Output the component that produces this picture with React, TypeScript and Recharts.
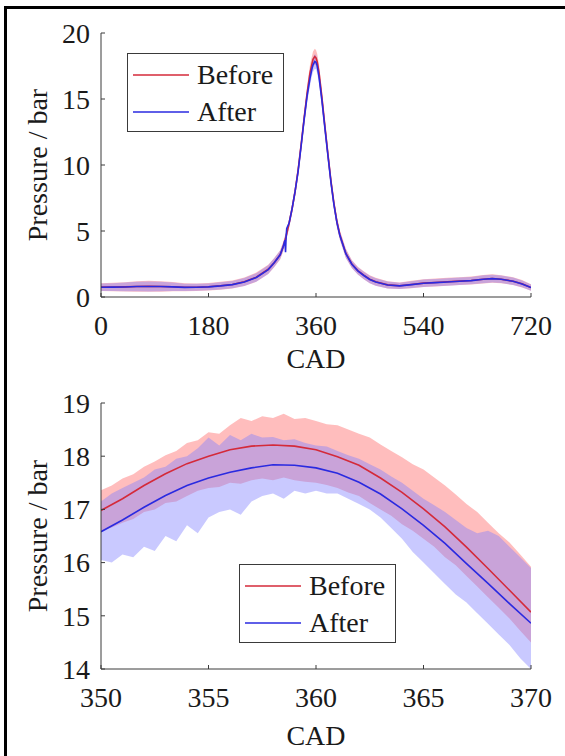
import React from 'react';
import { ComposedChart, Line, Area, XAxis, YAxis, Legend, Label } from 'recharts';

// ---------- Top panel: full cycle ----------
const topCad = [0, 20, 40, 60, 80, 100, 120, 140, 160, 180, 200, 220, 240, 260, 280, 290, 300, 305, 310, 315, 320, 325, 330, 335, 340, 345, 350, 353, 355, 358, 360, 362, 365, 370, 375, 380, 385, 390, 395, 400, 410, 420, 430, 440, 450, 460, 480, 500, 520, 540, 560, 580, 600, 620, 640, 655, 670, 690, 705, 720];
const topBefore = [0.75, 0.76, 0.77, 0.8, 0.82, 0.8, 0.78, 0.74, 0.74, 0.78, 0.85, 0.95, 1.15, 1.5, 2.1, 2.6, 3.2, 3.8, 4.6, 5.6, 6.7, 8.0, 9.6, 11.5, 13.5, 15.4, 17.0, 17.6, 18.0, 18.21, 18.12, 17.83, 17.01, 15.07, 12.9, 10.8, 8.8, 7.1, 5.7, 4.7, 3.3, 2.5, 2.0, 1.65, 1.35, 1.15, 0.92, 0.85, 0.95, 1.05, 1.1, 1.15, 1.2, 1.25, 1.35, 1.4, 1.35, 1.2, 1.0, 0.72];
const topAfter = [0.74, 0.75, 0.76, 0.79, 0.8, 0.79, 0.77, 0.73, 0.74, 0.77, 0.84, 0.94, 1.13, 1.48, 2.08, 2.6, 3.2, 3.8, 4.6, 5.6, 6.7, 8.0, 9.5, 11.4, 13.4, 15.2, 16.58, 17.25, 17.59, 17.84, 17.78, 17.51, 16.7, 14.86, 12.75, 10.7, 8.7, 7.0, 5.65, 4.65, 3.28, 2.48, 1.98, 1.63, 1.33, 1.14, 0.91, 0.84, 0.94, 1.04, 1.09, 1.14, 1.19, 1.24, 1.34, 1.39, 1.34, 1.19, 0.99, 0.71];
const topBeforeSpread = [0.3, 0.32, 0.35, 0.4, 0.42, 0.4, 0.35, 0.3, 0.28, 0.28, 0.3, 0.3, 0.32, 0.35, 0.35, 0.35, 0.35, 0.35, 0.35, 0.35, 0.35, 0.4, 0.4, 0.45, 0.5, 0.55, 0.6, 0.6, 0.6, 0.6, 0.6, 0.6, 0.6, 0.6, 0.55, 0.5, 0.45, 0.4, 0.4, 0.35, 0.35, 0.3, 0.3, 0.3, 0.3, 0.3, 0.28, 0.25, 0.28, 0.3, 0.3, 0.3, 0.3, 0.3, 0.32, 0.32, 0.3, 0.3, 0.28, 0.25];
const topAfterSpread = [0.28, 0.3, 0.33, 0.36, 0.38, 0.36, 0.32, 0.28, 0.26, 0.26, 0.28, 0.28, 0.3, 0.32, 0.33, 0.33, 0.33, 0.33, 0.33, 0.33, 0.33, 0.38, 0.38, 0.42, 0.48, 0.52, 0.55, 0.55, 0.55, 0.55, 0.55, 0.55, 0.55, 0.55, 0.5, 0.48, 0.42, 0.38, 0.38, 0.33, 0.33, 0.28, 0.28, 0.28, 0.28, 0.28, 0.26, 0.24, 0.26, 0.28, 0.28, 0.28, 0.28, 0.28, 0.3, 0.3, 0.28, 0.28, 0.26, 0.24];
// small discontinuity in the After trace near 310 CAD
const afterGlitchCad = [308, 309, 311];
const afterGlitchP = [4.3, 3.4, 5.2];
const topXTicks = [0, 180, 360, 540, 720];
const topYTicks = [0, 5, 10, 15, 20];

// ---------- Bottom panel: zoom on the peak ----------
const botCad = [350, 351, 352, 353, 354, 355, 356, 357, 358, 359, 360, 361, 362, 363, 364, 365, 366, 367, 368, 369, 370];
const botBefore = [16.98, 17.2, 17.45, 17.67, 17.86, 18.0, 18.12, 18.19, 18.21, 18.19, 18.12, 17.99, 17.83, 17.59, 17.32, 17.01, 16.67, 16.29, 15.89, 15.48, 15.07];
const botAfter = [16.58, 16.8, 17.04, 17.26, 17.45, 17.59, 17.7, 17.78, 17.84, 17.83, 17.78, 17.68, 17.51, 17.29, 17.01, 16.7, 16.36, 15.98, 15.61, 15.23, 14.86];
const botBandCad = [350, 350.5, 351, 351.5, 352, 352.5, 353, 353.5, 354, 354.5, 355, 355.5, 356, 356.5, 357, 357.5, 358, 358.5, 359, 359.5, 360, 360.5, 361, 361.5, 362, 362.5, 363, 363.5, 364, 364.5, 365, 365.5, 366, 366.5, 367, 367.5, 368, 368.5, 369, 369.5, 370];
const botBeforeHi = [17.36, 17.45, 17.58, 17.66, 17.8, 17.9, 18.02, 18.1, 18.25, 18.3, 18.45, 18.42, 18.58, 18.72, 18.66, 18.75, 18.72, 18.8, 18.7, 18.72, 18.66, 18.6, 18.58, 18.5, 18.42, 18.35, 18.22, 18.1, 17.98, 17.85, 17.75, 17.6, 17.45, 17.28, 17.1, 16.95, 16.75, 16.55, 16.38, 16.15, 15.92];
const botBeforeLo = [16.6, 16.66, 16.75, 16.82, 16.95, 17.0, 17.12, 17.15, 17.25, 17.35, 17.4, 17.42, 17.5, 17.48, 17.55, 17.58, 17.55, 17.6, 17.55, 17.52, 17.5, 17.46, 17.4, 17.32, 17.25, 17.12, 17.0, 16.88, 16.72, 16.6, 16.45, 16.3, 16.1, 15.95, 15.75, 15.55, 15.35, 15.15, 14.95, 14.72, 14.5];
const botAfterHi = [17.15, 17.3, 17.4, 17.5, 17.6, 17.75, 17.8, 17.95, 18.0, 18.15, 18.35, 18.2, 18.4, 18.3, 18.42, 18.35, 18.36, 18.3, 18.32, 18.25, 18.2, 18.18, 18.1, 18.02, 17.95, 17.85, 17.75, 17.62, 17.5, 17.35, 17.2, 17.08, 16.95, 16.8, 16.65, 16.55, 16.6, 16.5, 16.3, 16.1, 15.9];
const botAfterLo = [16.05, 16.0, 16.15, 16.1, 16.3, 16.22, 16.5, 16.4, 16.7, 16.55, 16.85, 16.95, 17.0, 16.9, 17.15, 17.25, 17.3, 17.2, 17.35, 17.3, 17.35, 17.3, 17.3, 17.2, 17.1, 17.0, 16.85, 16.65, 16.45, 16.2, 16.0, 15.8, 15.6, 15.4, 15.25, 15.05, 14.85, 14.65, 14.45, 14.2, 14.0];
const botXTicks = [350, 355, 360, 365, 370];
const botYTicks = [14, 15, 16, 17, 18, 19];

const seriesNames = ['Before', 'After'];

// ---------- build tables ----------
const topBeforeLine = topCad.map((c, i) => ({ cad: c, p: topBefore[i] }));
const topAfterLine = [
  ...topCad.map((c, i) => ({ cad: c, p: topAfter[i] })),
  ...afterGlitchCad.map((c, i) => ({ cad: c, p: afterGlitchP[i] })),
].sort((a, b) => a.cad - b.cad);
const topBeforeBand = topCad.map((c, i) => ({ cad: c, band: [topBefore[i] - topBeforeSpread[i], topBefore[i] + topBeforeSpread[i]] }));
const topAfterBand = topCad.map((c, i) => ({ cad: c, band: [topAfter[i] - topAfterSpread[i], topAfter[i] + topAfterSpread[i]] }));

const botBeforeLine = botCad.map((c, i) => ({ cad: c, p: botBefore[i] }));
const botAfterLine = botCad.map((c, i) => ({ cad: c, p: botAfter[i] }));
const botBeforeBand = botBandCad.map((c, i) => ({ cad: c, band: [botBeforeLo[i], botBeforeHi[i]] }));
const botAfterBand = botBandCad.map((c, i) => ({ cad: c, band: [botAfterLo[i], botAfterHi[i]] }));

// ---------- styles ----------
const FONT = "'Liberation Serif', serif";
const TXT = '#1a1a1a';
const AX = '#3a3a3a';
const RED_LINE = '#d42a3a';
const BLUE_LINE = '#2a2ae0';
const RED_FILL = 'rgb(255,90,90)';
const BLUE_FILL = 'rgb(126,126,255)';
const TICK_LEN = 4;

const BottomTick = (props: any) => {
  const { x, y, payload } = props;
  return (
    <g>
      <line x1={x} y1={y} x2={x} y2={y - TICK_LEN} stroke={AX} strokeWidth={1} />
      <text x={x} y={y + 38} textAnchor="middle" fontFamily={FONT} fontSize={28} fill={TXT}>
        {payload.value}
      </text>
    </g>
  );
};
const TopTick = (props: any) => {
  const { x, y } = props;
  return <line x1={x} y1={y} x2={x} y2={y + TICK_LEN} stroke={AX} strokeWidth={1} />;
};
const LeftTick = (props: any) => {
  const { x, y, payload } = props;
  return (
    <g>
      <line x1={x} y1={y} x2={x + TICK_LEN} y2={y} stroke={AX} strokeWidth={1} />
      <text x={x - 11} y={y} dy="0.35em" textAnchor="end" fontFamily={FONT} fontSize={28} fill={TXT}>
        {payload.value}
      </text>
    </g>
  );
};
const RightTick = (props: any) => {
  const { x, y } = props;
  return <line x1={x} y1={y} x2={x - TICK_LEN} y2={y} stroke={AX} strokeWidth={1} />;
};

const xTitle = (dy: number) => (props: any) => {
  const vb = props.viewBox;
  return (
    <text x={vb.x + vb.width / 2} y={vb.y + dy} textAnchor="middle" fontFamily={FONT} fontSize={28} fill={TXT}>
      CAD
    </text>
  );
};
const yTitle = (props: any) => {
  const vb = props.viewBox;
  const cx = vb.x + vb.width - 54;
  const cy = vb.y + vb.height / 2;
  return (
    <text x={cx} y={cy} transform={`rotate(-90, ${cx}, ${cy})`} textAnchor="middle" fontFamily={FONT} fontSize={28} fill={TXT}>
      Pressure / bar
    </text>
  );
};

const LegendBox = (props: any) => {
  const items = (props.payload || [])
    .filter((p: any) => p.type !== 'none' && seriesNames.includes(p.value))
    .sort((a: any, b: any) => seriesNames.indexOf(a.value) - seriesNames.indexOf(b.value));
  return (
    <div
      style={{
        width: 157,
        height: 79,
        boxSizing: 'border-box',
        border: `1px solid ${AX}`,
        background: '#fff',
        paddingTop: 3,
        paddingLeft: 5,
      }}
    >
      {items.map((p: any) => (
        <div key={p.value} style={{ display: 'flex', alignItems: 'center', height: 36.7 }}>
          <svg width={56} height={4} style={{ display: 'block' }}>
            <line x1={0} y1={2} x2={56} y2={2} stroke={p.color} strokeWidth={1.5} />
          </svg>
          <span style={{ fontFamily: FONT, fontSize: 28, color: TXT, marginLeft: 8, lineHeight: '28px' }}>{p.value}</span>
        </div>
      ))}
    </div>
  );
};

type PanelProps = {
  height: number;
  margin: any;
  xDomain: [number, number];
  xTicks: number[];
  yDomain: [number, number];
  yTicks: number[];
  beforeLine: any[];
  afterLine: any[];
  beforeBand: any[];
  afterBand: any[];
  legendPos: { left: number; top: number };
  titleDy: number;
};

const Panel = (p: PanelProps) => (
  <ComposedChart width={565} height={p.height} margin={p.margin}>
    <XAxis
      xAxisId="b"
      type="number"
      dataKey="cad"
      domain={p.xDomain}
      ticks={p.xTicks}
      interval={0}
      allowDataOverflow
      height={80}
      tickSize={0}
      tickMargin={0}
      tickLine={false}
      axisLine={{ stroke: AX, strokeWidth: 1 }}
      tick={<BottomTick />}
    >
      <Label content={xTitle(p.titleDy)} />
    </XAxis>
    <XAxis
      xAxisId="t"
      orientation="top"
      type="number"
      dataKey="cad"
      domain={p.xDomain}
      ticks={p.xTicks}
      interval={0}
      allowDataOverflow
      height={0}
      tickSize={0}
      tickMargin={0}
      tickLine={false}
      axisLine={{ stroke: AX, strokeWidth: 1 }}
      tick={<TopTick />}
    />
    <YAxis
      yAxisId="l"
      type="number"
      domain={p.yDomain}
      ticks={p.yTicks}
      interval={0}
      allowDataOverflow
      width={60}
      tickSize={0}
      tickMargin={0}
      tickLine={false}
      axisLine={{ stroke: AX, strokeWidth: 1 }}
      tick={<LeftTick />}
    >
      <Label content={yTitle} />
    </YAxis>
    <YAxis
      yAxisId="r"
      orientation="right"
      type="number"
      domain={p.yDomain}
      ticks={p.yTicks}
      interval={0}
      allowDataOverflow
      width={0}
      tickSize={0}
      tickMargin={0}
      tickLine={false}
      axisLine={{ stroke: AX, strokeWidth: 1 }}
      tick={<RightTick />}
    />
    <Area
      xAxisId="b"
      yAxisId="l"
      data={p.beforeBand}
      dataKey="band"
      type="linear"
      stroke="none"
      fill={RED_FILL}
      fillOpacity={0.4}
      legendType="none"
      dot={false}
      activeDot={false}
      isAnimationActive={false}
    />
    <Area
      xAxisId="b"
      yAxisId="l"
      data={p.afterBand}
      dataKey="band"
      type="linear"
      stroke="none"
      fill={BLUE_FILL}
      fillOpacity={0.42}
      legendType="none"
      dot={false}
      activeDot={false}
      isAnimationActive={false}
    />
    <Line
      xAxisId="b"
      yAxisId="l"
      data={p.beforeLine}
      dataKey="p"
      name={seriesNames[0]}
      type="linear"
      stroke={RED_LINE}
      strokeWidth={1.6}
      dot={false}
      activeDot={false}
      isAnimationActive={false}
    />
    <Line
      xAxisId="b"
      yAxisId="l"
      data={p.afterLine}
      dataKey="p"
      name={seriesNames[1]}
      type="linear"
      stroke={BLUE_LINE}
      strokeWidth={1.6}
      dot={false}
      activeDot={false}
      isAnimationActive={false}
    />
    <Legend
      layout="horizontal"
      verticalAlign="middle"
      align="center"
      content={<LegendBox />}
      wrapperStyle={{ left: p.legendPos.left, top: p.legendPos.top, width: 157, height: 79 }}
    />
  </ComposedChart>
);

export default function App() {
  return (
    <div style={{ position: 'absolute', left: 0, top: 0, width: 565, height: 756, overflow: 'hidden', background: '#fff', fontFamily: FONT }}>
      <div
        style={{
          position: 'absolute',
          left: 4,
          top: 6,
          width: 620,
          height: 800,
          borderTop: '3px solid #000',
          borderLeft: '3px solid #000',
        }}
      />
      <div style={{ position: 'absolute', left: 0, top: 0 }}>
        <Panel
          height={380}
          margin={{ top: 33, right: 34, bottom: 3, left: 41 }}
          xDomain={[0, 720]}
          xTicks={topXTicks}
          yDomain={[0, 20]}
          yTicks={topYTicks}
          beforeLine={topBeforeLine}
          afterLine={topAfterLine}
          beforeBand={topBeforeBand}
          afterBand={topAfterBand}
          legendPos={{ left: 127, top: 53 }}
          titleDy={71}
        />
      </div>
      <div style={{ position: 'absolute', left: 0, top: 380 }}>
        <Panel
          height={376}
          margin={{ top: 23, right: 34, bottom: 7, left: 41 }}
          xDomain={[350, 370]}
          xTicks={botXTicks}
          yDomain={[14, 19]}
          yTicks={botYTicks}
          beforeLine={botBeforeLine}
          afterLine={botAfterLine}
          beforeBand={botBeforeBand}
          afterBand={botAfterBand}
          legendPos={{ left: 239, top: 184 }}
          titleDy={76}
        />
      </div>
    </div>
  );
}
